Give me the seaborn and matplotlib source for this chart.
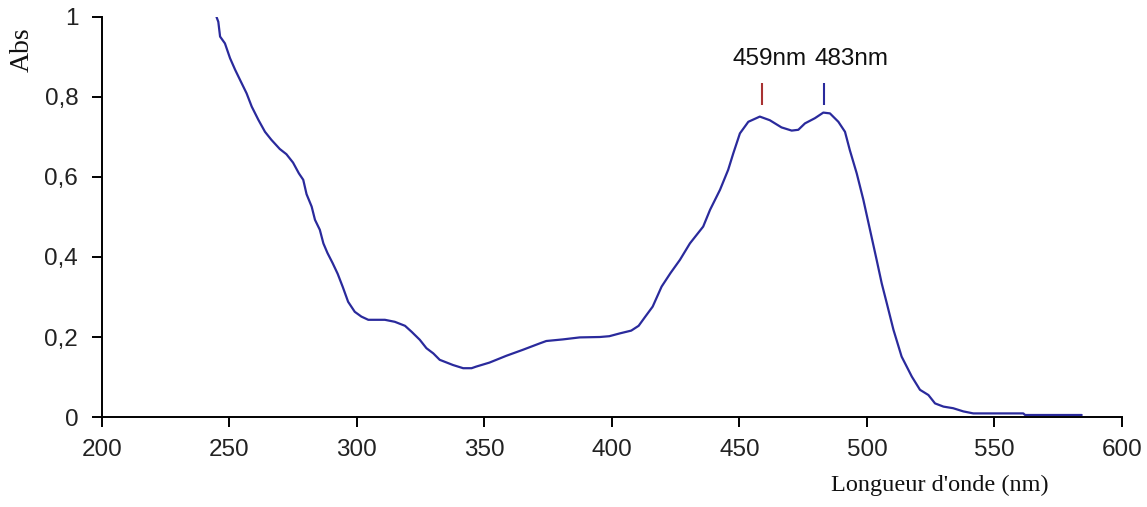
import matplotlib
matplotlib.use("Agg")
import matplotlib.pyplot as plt
import seaborn as sns
import pandas as pd

# Absorption spectrum (wavelength in nm, absorbance)
wavelength = [
    245.0, 245.7, 246.4, 248.3, 250.3, 252.3, 254.2, 256.8, 258.8, 261.4,
    264.0, 266.5, 269.8, 272.4, 275.0, 277.3, 279.0, 280.3, 282.3, 283.6,
    285.5, 286.9, 288.5, 290.5, 292.5, 294.5, 296.6, 299.2, 301.8, 304.5,
    311.0, 314.9, 318.9, 321.5, 324.7, 327.3, 330.0, 332.5, 337.7, 341.7,
    345.0, 346.8, 352.0, 358.6, 365.1, 371.7, 374.3, 380.8, 387.4, 395.3,
    399.0, 403.1, 407.6, 410.5, 413.0, 416.0, 419.5, 423.0, 426.7, 430.6,
    435.8, 438.5, 442.4, 445.6, 447.6, 450.2, 453.5, 458.0, 461.9, 466.5,
    470.5, 473.1, 475.7, 479.6, 482.9, 485.5, 488.8, 491.4, 493.3, 496.0,
    498.6, 501.2, 503.8, 505.8, 507.8, 510.4, 513.6, 517.6, 520.8, 524.1,
    526.7, 530.0, 533.8, 537.8, 541.7, 561.3, 562.0, 584.2,
]
absorbance = [
    1.000, 0.988, 0.951, 0.934, 0.897, 0.868, 0.843, 0.809, 0.776, 0.743,
    0.713, 0.693, 0.670, 0.657, 0.636, 0.609, 0.593, 0.557, 0.526, 0.493,
    0.468, 0.434, 0.410, 0.385, 0.358, 0.325, 0.288, 0.263, 0.251, 0.243,
    0.243, 0.238, 0.228, 0.213, 0.193, 0.172, 0.159, 0.143, 0.130, 0.122,
    0.122, 0.126, 0.136, 0.153, 0.168, 0.184, 0.190, 0.194, 0.199, 0.200,
    0.202, 0.209, 0.216, 0.228, 0.250, 0.276, 0.326, 0.360, 0.393, 0.434,
    0.476, 0.518, 0.568, 0.618, 0.659, 0.709, 0.738, 0.751, 0.742, 0.724,
    0.716, 0.718, 0.734, 0.747, 0.761, 0.759, 0.738, 0.713, 0.667, 0.609,
    0.543, 0.468, 0.393, 0.334, 0.284, 0.218, 0.151, 0.101, 0.068, 0.055,
    0.034, 0.026, 0.022, 0.014, 0.009, 0.009, 0.005, 0.005,
]

# Marked absorption maxima
peaks = [459, 483]
peak_colors = ["#a83232", "#2a2a9c"]

x_ticks = [200, 250, 300, 350, 400, 450, 500, 550, 600]
y_ticks = [0, 0.2, 0.4, 0.6, 0.8, 1.0]
y_tick_labels = ["0", "0,2", "0,4", "0,6", "0,8", "1"]

sns.set_style("ticks")
plt.rcParams["font.family"] = ["Liberation Sans", "DejaVu Sans"]

df = pd.DataFrame({"wavelength": wavelength, "absorbance": absorbance})

fig = plt.figure(figsize=(11.47, 5.07), dpi=100)
ax = fig.add_axes([0.0887, 0.1775, 0.8895, 0.789])

line_color = "#2a2a9c"
sns.lineplot(data=df, x="wavelength", y="absorbance", ax=ax,
             color=line_color, linewidth=1.6, sort=False)

ax.set_xlim(200, 600)
ax.set_ylim(0, 1)
ax.set_xticks(x_ticks)
ax.set_xticklabels([str(t) for t in x_ticks])
ax.set_yticks(y_ticks)
ax.set_yticklabels(y_tick_labels)
ax.tick_params(axis="both", labelsize=17.5, length=7, width=1.4,
               color="black", labelcolor="#222222", direction="out")
ax.tick_params(axis="x", pad=9)
ax.tick_params(axis="y", pad=10)

sns.despine(ax=ax)
for side in ("left", "bottom"):
    ax.spines[side].set_linewidth(1.4)
    ax.spines[side].set_color("black")

ax.set_xlabel("Longueur d'onde (nm)", family=["Liberation Serif", "DejaVu Serif"],
              fontsize=17.5, color="#111111")
ax.xaxis.set_label_coords(0.8216, -0.17)
ax.xaxis.label.set_verticalalignment("center")

ax.set_ylabel("Abs", family=["Liberation Serif", "DejaVu Serif"],
              fontsize=20, color="#111111")
ax.yaxis.set_label_coords(-0.078, 0.9175)
ax.yaxis.label.set_verticalalignment("center")

# Peak markers and labels
label_offsets = [5, 20]
for p, c, off in zip(peaks, peak_colors, label_offsets):
    ax.vlines(p, 0.78, 0.836, color=c, linewidth=1.5)
    ax.annotate(f"{p}nm", xy=(p, 0.895), xytext=(off, 0),
                textcoords="offset points", ha="center", va="center",
                fontsize=17.5, color="#111111")

fig.savefig("out.png", dpi=100)
